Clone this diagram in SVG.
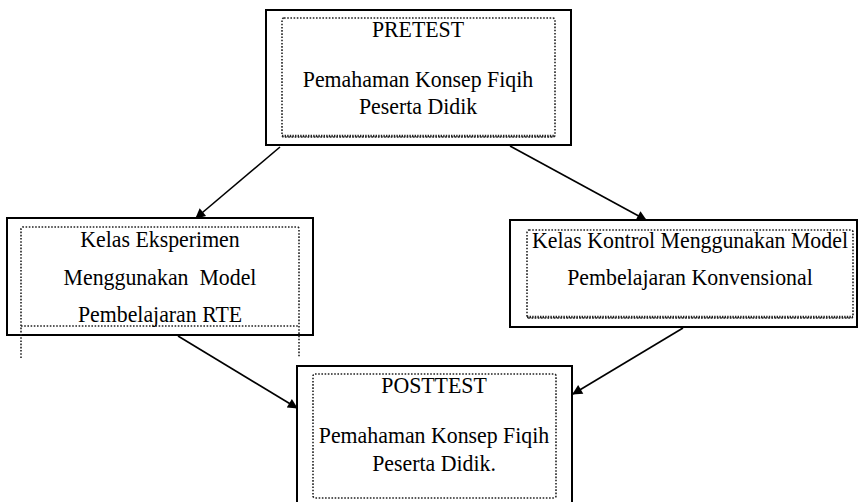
<svg xmlns="http://www.w3.org/2000/svg" width="864" height="502" viewBox="0 0 864 502">
<style>
.outer{fill:#fff;stroke:#000;stroke-width:2}
.inner{fill:none;stroke:#222;stroke-width:1.6;stroke-dasharray:1.6 1.6}
.wavy{fill:none;stroke:#222;stroke-width:2.4;stroke-dasharray:1.4 1.2}
.t{font-family:"Liberation Serif","Times New Roman",serif;font-size:24px;fill:#000;text-anchor:middle}
.c{stroke:#000;stroke-width:1.6;fill:none;marker-end:url(#ah)}
</style>
<defs>
<marker id="ah" viewBox="0 0 10 10" refX="9" refY="5" markerWidth="12" markerHeight="10" markerUnits="userSpaceOnUse" orient="auto">
<path d="M0,0 L10,5 L0,10 z" fill="#000"/>
</marker>
</defs>
<rect width="864" height="502" fill="#fff"/>
<g id="pretest">
<rect class="outer" x="266" y="10" width="305" height="135"/>
<rect class="inner" x="282" y="18" width="273" height="119" rx="2"/>
<line class="wavy" x1="282" y1="136" x2="555" y2="136"/>
<text class="t" transform="matrix(0.91 0 0 1 418 0)" y="37">PRETEST</text>
<text class="t" transform="matrix(0.91 0 0 1 418 0)" y="87">Pemahaman Konsep Fiqih</text>
<text class="t" transform="matrix(0.91 0 0 1 418 0)" y="114">Peserta Didik</text>
</g>
<g id="eksperimen">
<rect class="outer" x="7" y="218" width="306" height="117"/>
<path class="inner" d="M21,358 V229 Q21,227 23,227 H297 Q299,227 299,229 V358"/>
<line class="inner" x1="21" y1="326" x2="299" y2="326"/>
<text class="t" transform="matrix(0.91 0 0 1 160 0)" y="247">Kelas Eksperimen</text>
<text class="t" transform="matrix(0.91 0 0 1 160 0)" y="285" xml:space="preserve">Menggunakan  Model</text>
<text class="t" transform="matrix(0.91 0 0 1 160 0)" y="322">Pembelajaran RTE</text>
</g>
<g id="kontrol">
<rect class="outer" x="510" y="220" width="347" height="107"/>
<rect class="inner" x="527" y="230" width="326" height="88" rx="2"/>
<line class="wavy" x1="527" y1="317" x2="853" y2="317"/>
<text class="t" transform="matrix(0.91 0 0 1 690 0)" y="248">Kelas Kontrol Menggunakan Model</text>
<text class="t" transform="matrix(0.91 0 0 1 690 0)" y="285">Pembelajaran Konvensional</text>
</g>
<g id="posttest">
<rect class="outer" x="297" y="366" width="275" height="140"/>
<rect class="inner" x="313" y="374" width="243" height="124" rx="2"/>
<text class="t" transform="matrix(0.91 0 0 1 434 0)" y="393">POSTTEST</text>
<text class="t" transform="matrix(0.91 0 0 1 434 0)" y="443">Pemahaman Konsep Fiqih</text>
<text class="t" transform="matrix(0.91 0 0 1 434 0)" y="471">Peserta Didik.</text>
</g>
<g id="connectors">
<line class="c" x1="280" y1="147" x2="196" y2="218"/>
<line class="c" x1="510" y1="146" x2="646" y2="220"/>
<line class="c" x1="178" y1="336" x2="297" y2="408"/>
<line class="c" x1="683" y1="328" x2="573" y2="394"/>
</g>
</svg>
